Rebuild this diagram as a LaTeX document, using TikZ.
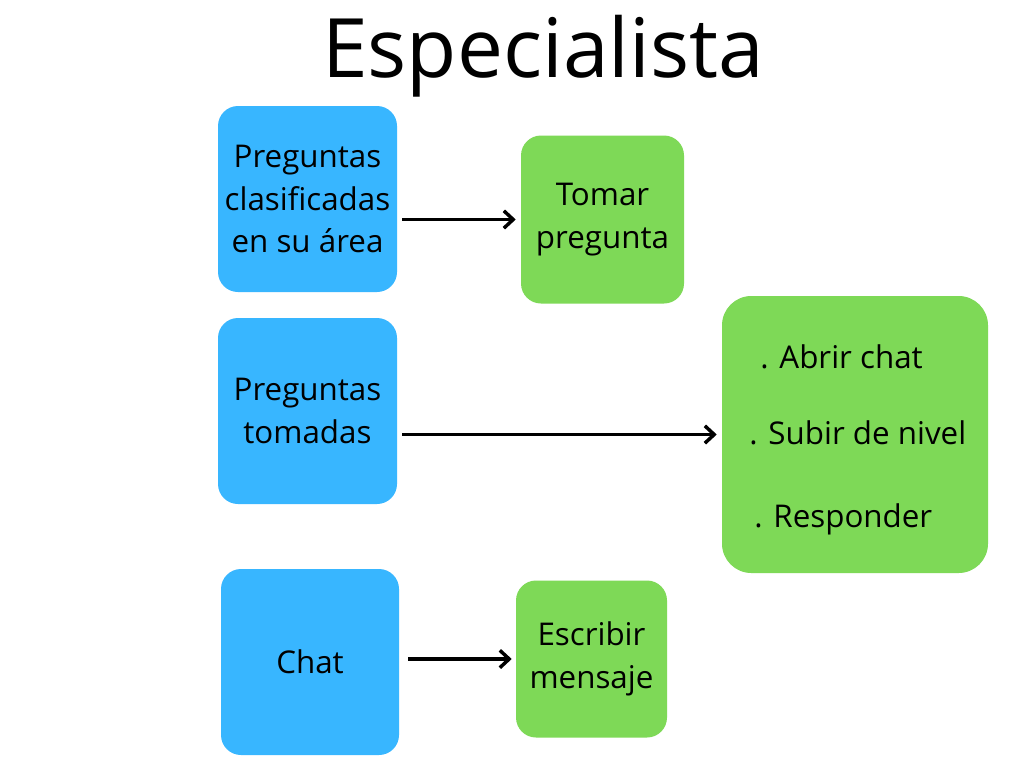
\documentclass[tikz,border=0pt]{standalone}
\usepackage{fontspec}
\setmainfont{Open Sans}
\usetikzlibrary{arrows.meta,calc}
\definecolor{cblue}{HTML}{38B6FF}
\definecolor{cgreen}{HTML}{7ED957}
\tikzset{
  txt/.style={font=\fontsize{23.5}{32}\selectfont},
  box/.style={txt, rounded corners=15pt, inner sep=0pt, align=center},
  bluebox/.style={box, fill=cblue},
  greenbox/.style={box, fill=cgreen},
  arr/.style={line width=2.6pt, -{Straight Barb[length=7pt,width=13pt,line width=2.6pt]}},
}
\begin{document}
\begin{tikzpicture}[x=0.75pt,y=-0.75pt]
\useasboundingbox[fill=white] (0,0) rectangle (1024,768);
\node[font=\fontsize{61.5}{72}\selectfont] (title) at (543,56) {Especialista};
\node[bluebox, minimum width=179*0.75pt, minimum height=186*0.75pt] (b1) at (307.5,199) {Preguntas\\clasificadas\\en su área};
\node[greenbox, minimum width=163*0.75pt, minimum height=168*0.75pt] (g1) at (602.5,219.5) {Tomar\\pregunta};
\node[bluebox, minimum width=179*0.75pt, minimum height=186*0.75pt] (b2) at (307.5,411) {Preguntas\\tomadas};
\node[greenbox, rounded corners=22pt, minimum width=266*0.75pt, minimum height=277*0.75pt] (gb) at (855,434.5) {};
\node[txt, anchor=west, inner sep=0pt] (t1) at (760,357) {. Abrir chat};
\node[txt, anchor=west, inner sep=0pt] (t2) at (749,433) {. Subir de nivel};
\node[txt, anchor=west, inner sep=0pt] (t3) at (754,519) {. Responder};
\node[bluebox, minimum width=178*0.75pt, minimum height=186*0.75pt] (b3) at (310,662) {Chat};
\node[greenbox, minimum width=151*0.75pt, minimum height=157*0.75pt] (g3) at (591.5,659) {Escribir\\mensaje};
\draw[arr, shorten <=3.75pt, shorten >=3.75pt] (b1.east |- g1.west) -- (g1.west);
\draw[arr, shorten <=3.75pt, shorten >=3.75pt] (b2.east |- gb.west) -- (gb.west);
\draw[arr, shorten <=6.75pt, shorten >=3pt] (b3.east |- g3.west) -- (g3.west);
\end{tikzpicture}
\end{document}
